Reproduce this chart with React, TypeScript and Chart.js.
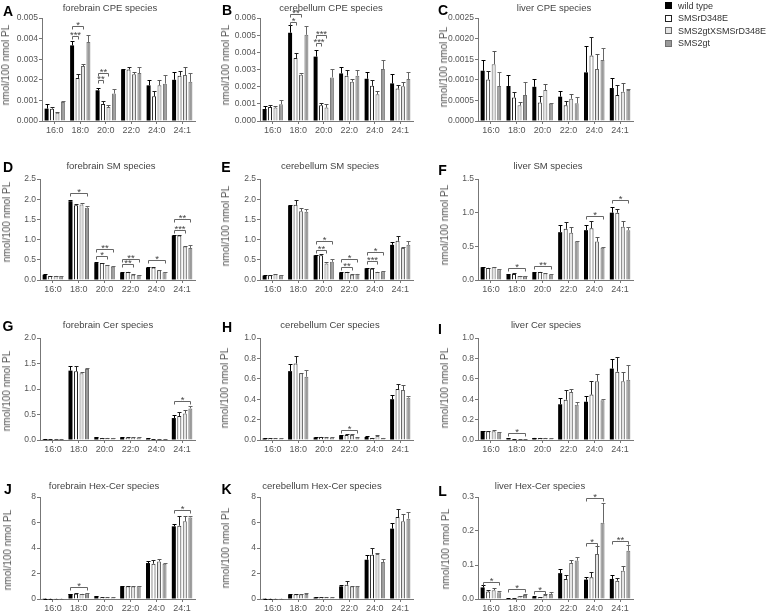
import React, { useEffect, useRef } from "react";
import { Chart, registerables } from "chart.js";

Chart.register(...registerables);

const FONT = '"Liberation Sans", Arial, Helvetica, sans-serif';

const categories = ["16:0", "18:0", "20:0", "22:0", "24:0", "24:1"];
const seriesNames = ["wild type", "SMSrD348E", "SMS2gtXSMSrD348E", "SMS2gt"];
const yAxisTitle = "nmol/100 nmol PL";

// ---- A: forebrain CPE ----
const aMeans = [
  [0.0006, 0.00367, 0.00149, 0.0025, 0.00173, 0.002],
  [0.0006, 0.00209, 0.00083, 0.0025, 0.0012, 0.0022],
  [0.0004, 0.00267, 0.00068, 0.00227, 0.00173, 0.00223],
  [0.00092, 0.00383, 0.00133, 0.00233, 0.00181, 0.0019],
];
const aErrors = [
  [0.00024, 0.00021, 0.00013, 0.00003, 0.00027, 0.00038],
  [0.0001, 0.00018, 0.00014, 0.00012, 0.00026, 0.00023],
  [0.00004, 0.00008, 0.0001, 0.00011, 0.00027, 0.00039],
  [0.00004, 0.00033, 0.00024, 0.00029, 0.00041, 0.00043],
];
const aTicks = ["0.000", "0.001", "0.002", "0.003", "0.004", "0.005"];
const aBrackets = [
  [1, 0, 1, 0.00411, "***"],
  [1, 0, 2, 0.00459, "*"],
  [2, 0, 1, 0.00197, "**"],
  [2, 0, 2, 0.00233, "**"],
];

// ---- B: cerebellum CPE ----
const bMeans = [
  [0.0007, 0.00514, 0.00375, 0.00277, 0.00246, 0.00219],
  [0.00082, 0.00367, 0.00092, 0.00264, 0.00205, 0.00189],
  [0.00078, 0.0027, 0.00078, 0.00229, 0.00156, 0.00203],
  [0.00098, 0.00502, 0.00254, 0.00264, 0.00303, 0.00244],
];
const bErrors = [
  [0.00016, 0.00043, 0.00041, 0.00036, 0.00037, 0.00054],
  [0.0001, 0.00029, 0.00015, 0.00033, 0.00033, 0.0002],
  [0.00008, 0.00007, 0.0002, 0.00013, 0.0002, 0.00026],
  [0.00023, 0.00049, 0.00049, 0.00033, 0.00052, 0.00039],
];
const bTicks = ["0.000", "0.001", "0.002", "0.003", "0.004", "0.005", "0.006"];
const bBrackets = [
  [1, 0, 1, 0.00576, "*"],
  [1, 0, 2, 0.00625, "**"],
  [2, 0, 1, 0.00453, "***"],
  [2, 0, 2, 0.00502, "***"],
];

// ---- C: liver CPE ----
const cMeans = [
  [0.00122, 0.00085, 0.00083, 0.00059, 0.00118, 0.0008],
  [0.00101, 0.00057, 0.00045, 0.00038, 0.00159, 0.00063],
  [0.00138, 0.00038, 0.00075, 0.00054, 0.00126, 0.00071],
  [0.00085, 0.00063, 0.00042, 0.00043, 0.00148, 0.00075],
];
const cErrors = [
  [0.00026, 0.00027, 0.00019, 0.00014, 0.00064, 0.00024],
  [0.00021, 0.00013, 0.00016, 0.00011, 0.00046, 0.00025],
  [0.00032, 0.00008, 0.00016, 0.00011, 0.00037, 0.00021],
  [0.00034, 0.00031, 0.00002, 0.00016, 0.0003, 0.00002],
];
const cTicks = ["0.0000", "0.0005", "0.0010", "0.0015", "0.0020", "0.0025"];
const cBrackets: any[] = [];

// ---- D: forebrain SM ----
const dMeans = [
  [0.13, 1.95, 0.42, 0.18, 0.3, 1.1],
  [0.1, 1.85, 0.42, 0.2, 0.31, 1.1],
  [0.1, 1.87, 0.37, 0.13, 0.24, 0.83],
  [0.09, 1.79, 0.33, 0.12, 0.19, 0.79],
];
const dErrors = [
  [0.01, 0.02, 0.02, 0.02, 0.02, 0.02],
  [0.005, 0.04, 0.01, 0.01, 0.01, 0.02],
  [0.005, 0.04, 0.01, 0.01, 0.01, 0.01],
  [0.01, 0.03, 0.01, 0.01, 0.02, 0.07],
];
const dTicks = ["0.0", "0.5", "1.0", "1.5", "2.0", "2.5"];
const dBrackets = [
  [1, 0, 3, 2.15, "*"],
  [2, 0, 2, 0.6, "*"],
  [2, 0, 3, 0.76, "**"],
  [3, 0, 2, 0.39, "**"],
  [3, 0, 3, 0.53, "**"],
  [4, 0, 3, 0.49, "*"],
  [5, 0, 2, 1.25, "***"],
  [5, 0, 3, 1.52, "**"],
];

// ---- E: cerebellum SM ----
const eMeans = [
  [0.11, 1.84, 0.61, 0.18, 0.29, 0.87],
  [0.12, 1.86, 0.61, 0.2, 0.28, 0.97],
  [0.14, 1.7, 0.41, 0.13, 0.2, 0.79],
  [0.12, 1.69, 0.45, 0.15, 0.21, 0.87],
];
const eErrors = [
  [0.01, 0.02, 0.01, 0.01, 0.01, 0.07],
  [0.005, 0.12, 0.03, 0.01, 0.01, 0.13],
  [0.005, 0.08, 0.04, 0.01, 0.01, 0.02],
  [0.005, 0.07, 0.06, 0.01, 0.01, 0.1],
];
const eTicks = ["0.0", "0.5", "1.0", "1.5", "2.0", "2.5"];
const eBrackets = [
  [2, 0, 2, 0.75, "**"],
  [2, 0, 3, 0.96, "*"],
  [3, 0, 2, 0.31, "**"],
  [3, 0, 3, 0.52, "*"],
  [4, 0, 2, 0.46, "***"],
  [4, 0, 3, 0.69, "*"],
];

// ---- F: liver SM ----
const fMeans = [
  [0.19, 0.08, 0.11, 0.71, 0.74, 1.0],
  [0.18, 0.09, 0.12, 0.76, 0.77, 1.0],
  [0.19, 0.06, 0.1, 0.7, 0.57, 0.79],
  [0.16, 0.055, 0.08, 0.57, 0.48, 0.74],
];
const fErrors = [
  [0.01, 0.005, 0.01, 0.1, 0.08, 0.09],
  [0.005, 0.01, 0.005, 0.1, 0.1, 0.06],
  [0.01, 0.005, 0.005, 0.08, 0.07, 0.08],
  [0.005, 0.005, 0.005, 0.01, 0.01, 0.05],
];
const fTicks = ["0.0", "0.5", "1.0", "1.5"];
const fBrackets = [
  [1, 0, 3, 0.18, "*"],
  [2, 0, 3, 0.21, "**"],
  [4, 0, 3, 0.95, "*"],
  [5, 0, 3, 1.19, "*"],
];

// ---- G: forebrain Cer ----
const gMeans = [
  [0.02, 1.36, 0.05, 0.05, 0.03, 0.43],
  [0.02, 1.35, 0.04, 0.05, 0.02, 0.47],
  [0.02, 1.31, 0.04, 0.05, 0.02, 0.52],
  [0.02, 1.39, 0.04, 0.05, 0.02, 0.62],
];
const gErrors = [
  [0.005, 0.09, 0.005, 0.005, 0.005, 0.06],
  [0.005, 0.1, 0.005, 0.005, 0.005, 0.08],
  [0.005, 0.02, 0.005, 0.005, 0.005, 0.07],
  [0.005, 0.03, 0.005, 0.005, 0.005, 0.04],
];
const gTicks = ["0.0", "0.5", "1.0", "1.5", "2.0"];
const gBrackets = [[5, 0, 3, 0.77, "*"]];

// ---- H: cerebellum Cer ----
const hMeans = [
  [0.015, 0.675, 0.025, 0.045, 0.03, 0.4],
  [0.015, 0.75, 0.03, 0.05, 0.02, 0.5],
  [0.015, 0.655, 0.025, 0.05, 0.04, 0.49],
  [0.015, 0.62, 0.025, 0.025, 0.02, 0.415],
];
const hErrors = [
  [0.003, 0.075, 0.003, 0.005, 0.005, 0.045],
  [0.003, 0.07, 0.003, 0.005, 0.003, 0.05],
  [0.003, 0.005, 0.003, 0.005, 0.005, 0.045],
  [0.003, 0.07, 0.003, 0.003, 0.003, 0.015],
];
const hTicks = ["0.0", "0.2", "0.4", "0.6", "0.8", "1.0"];
const hBrackets = [[3, 0, 3, 0.1, "*"]];

// ---- I: liver Cer ----
const iMeans = [
  [0.088, 0.015, 0.02, 0.35, 0.375, 0.7],
  [0.085, 0.01, 0.02, 0.395, 0.445, 0.67],
  [0.085, 0.008, 0.02, 0.47, 0.575, 0.575],
  [0.075, 0.008, 0.015, 0.345, 0.39, 0.59],
];
const iErrors = [
  [0.005, 0.003, 0.003, 0.06, 0.055, 0.09],
  [0.005, 0.003, 0.003, 0.095, 0.13, 0.14],
  [0.01, 0.003, 0.003, 0.03, 0.075, 0.095],
  [0.005, 0.003, 0.003, 0.025, 0.01, 0.145],
];
const iTicks = ["0.0", "0.2", "0.4", "0.6", "0.8", "1.0"];
const iBrackets = [[1, 0, 3, 0.07, "*"]];

// ---- J: forebrain Hex-Cer ----
const jMeans = [
  [0.02, 0.39, 0.2, 0.99, 2.82, 5.7],
  [0.02, 0.42, 0.1, 1.0, 2.77, 5.75],
  [0.02, 0.4, 0.1, 0.98, 2.95, 6.09],
  [0.02, 0.44, 0.12, 1.0, 2.77, 6.4],
];
const jErrors = [
  [0.01, 0.03, 0.03, 0.04, 0.13, 0.18],
  [0.01, 0.03, 0.02, 0.04, 0.26, 0.79],
  [0.01, 0.03, 0.02, 0.04, 0.15, 0.39],
  [0.01, 0.05, 0.02, 0.04, 0.08, 0.1],
];
const jTicks = ["0", "2", "4", "6", "8"];
const jBrackets = [
  [1, 0, 3, 0.92, "*"],
  [5, 0, 3, 7.0, "*"],
];

// ---- K: cerebellum Hex-Cer ----
const kMeans = [
  [0.02, 0.35, 0.12, 0.99, 3.08, 5.52],
  [0.02, 0.38, 0.12, 1.12, 3.48, 6.43],
  [0.02, 0.35, 0.12, 0.99, 3.53, 6.09],
  [0.02, 0.4, 0.12, 0.99, 2.9, 6.3],
];
const kErrors = [
  [0.01, 0.03, 0.02, 0.08, 0.4, 0.44],
  [0.01, 0.03, 0.02, 0.26, 0.52, 0.63],
  [0.01, 0.03, 0.02, 0.04, 0.07, 0.58],
  [0.01, 0.05, 0.02, 0.04, 0.2, 0.5],
];
const kTicks = ["0", "2", "4", "6", "8"];
const kBrackets: any[] = [];

// ---- L: liver Hex-Cer ----
const lMeans = [
  [0.034, 0.002, 0.006, 0.076, 0.057, 0.059],
  [0.022, 0.003, 0.005, 0.059, 0.064, 0.054],
  [0.026, 0.008, 0.012, 0.106, 0.132, 0.083],
  [0.02, 0.012, 0.015, 0.113, 0.224, 0.142],
];
const lErrors = [
  [0.006, 0.001, 0.002, 0.013, 0.007, 0.013],
  [0.005, 0.001, 0.001, 0.013, 0.015, 0.008],
  [0.006, 0.002, 0.003, 0.01, 0.023, 0.015],
  [0.005, 0.003, 0.005, 0.012, 0.058, 0.018],
];
const lTicks = ["0.0", "0.1", "0.2", "0.3"];
const lBrackets = [
  [0, 0, 3, 0.049, "*"],
  [1, 0, 3, 0.029, "*"],
  [2, 0, 2, 0.024, "*"],
  [4, 0, 2, 0.165, "*"],
  [4, 0, 3, 0.297, "*"],
  [5, 0, 3, 0.172, "**"],
];

// ---- styles ----
const fillColors = ["#000000", "#ffffff", "#e4e4e4", "#9a9a9a"];
const borderColors = ["#000000", "#222222", "#666666", "#707070"];
const errColors = ["#000000", "#222222", "#555555", "#666666"];

const panels = [
  { letter: "A", title: "forebrain CPE species", means: aMeans, errors: aErrors, ticks: aTicks, brackets: aBrackets },
  { letter: "B", title: "cerebellum CPE species", means: bMeans, errors: bErrors, ticks: bTicks, brackets: bBrackets },
  { letter: "C", title: "liver CPE species", means: cMeans, errors: cErrors, ticks: cTicks, brackets: cBrackets },
  { letter: "D", title: "forebrain SM species", means: dMeans, errors: dErrors, ticks: dTicks, brackets: dBrackets },
  { letter: "E", title: "cerebellum SM species", means: eMeans, errors: eErrors, ticks: eTicks, brackets: eBrackets },
  { letter: "F", title: "liver SM species", means: fMeans, errors: fErrors, ticks: fTicks, brackets: fBrackets },
  { letter: "G", title: "forebrain Cer species", means: gMeans, errors: gErrors, ticks: gTicks, brackets: gBrackets },
  { letter: "H", title: "cerebellum Cer species", means: hMeans, errors: hErrors, ticks: hTicks, brackets: hBrackets },
  { letter: "I", title: "liver Cer species", means: iMeans, errors: iErrors, ticks: iTicks, brackets: iBrackets },
  { letter: "J", title: "forebrain Hex-Cer species", means: jMeans, errors: jErrors, ticks: jTicks, brackets: jBrackets },
  { letter: "K", title: "cerebellum Hex-Cer species", means: kMeans, errors: kErrors, ticks: kTicks, brackets: kBrackets },
  { letter: "L", title: "liver Hex-Cer species", means: lMeans, errors: lErrors, ticks: lTicks, brackets: lBrackets },
];

// layout: plot rect [left, top, right, bottom], title centre, letter centre, y-title centre
const layouts = [
  { plot: [42, 18, 195, 121], title: [110, 7.5], letter: [8, 10.5], ytitle: [6, 64.5] },
  { plot: [260, 18, 413, 121], title: [331, 7.5], letter: [227, 9.5], ytitle: [226, 65] },
  { plot: [478, 18, 633, 121], title: [554, 7.5], letter: [443, 9.5], ytitle: [444, 67] },
  { plot: [40, 179, 195, 280], title: [111, 166], letter: [8, 167], ytitle: [6.5, 222] },
  { plot: [260, 179, 413, 280], title: [330, 166], letter: [226, 167], ytitle: [225.5, 226] },
  { plot: [478, 179, 633, 280], title: [548, 166], letter: [442.5, 169.5], ytitle: [445, 225] },
  { plot: [40, 338, 195, 440], title: [108, 325], letter: [8, 326], ytitle: [6.5, 391] },
  { plot: [260, 338, 413, 440], title: [330, 325], letter: [227, 327], ytitle: [225, 388] },
  { plot: [478, 338, 633, 440], title: [546, 325], letter: [440, 328.5], ytitle: [445, 388] },
  { plot: [40, 497, 195, 599], title: [104, 486], letter: [8, 488.5], ytitle: [8, 550] },
  { plot: [260, 497, 413, 599], title: [322, 486], letter: [226.5, 488.5], ytitle: [226, 548] },
  { plot: [478, 497, 633, 599], title: [540, 486], letter: [442.5, 490.5], ytitle: [446, 549] },
];

const Y_W = 40;
const PAD_T = 20;
const PAD_R = 4;
const X_H = 20;

function makeOverlay(errors: number[][], brackets: any[]) {
  return {
    id: "errorsAndBrackets",
    afterDatasetsDraw(chart: any) {
      const ctx = chart.ctx;
      const yScale = chart.scales.y;
      ctx.save();
      ctx.lineWidth = 1;
      chart.data.datasets.forEach((ds: any, i: number) => {
        const meta = chart.getDatasetMeta(i);
        meta.data.forEach((el: any, j: number) => {
          const v = ds.data[j];
          const e = errors[i][j];
          const x = Math.round(el.x) + 0.5;
          const y0 = el.y;
          const y1 = Math.round(yScale.getPixelForValue(v + e)) + 0.5;
          ctx.strokeStyle = errColors[i];
          ctx.beginPath();
          ctx.moveTo(x, y0);
          ctx.lineTo(x, y1);
          ctx.moveTo(x - 2, y1);
          ctx.lineTo(x + 2, y1);
          ctx.stroke();
        });
      });
      ctx.strokeStyle = "#666666";
      ctx.fillStyle = "#444444";
      ctx.font = "9.5px " + FONT;
      ctx.textAlign = "center";
      ctx.textBaseline = "alphabetic";
      brackets.forEach((b: any) => {
        const [cat, from, to, val, label] = b;
        const xa = Math.round(chart.getDatasetMeta(from).data[cat].x) + 0.5;
        const xb = Math.round(chart.getDatasetMeta(to).data[cat].x) + 0.5;
        const y = Math.round(yScale.getPixelForValue(val)) + 0.5;
        ctx.beginPath();
        ctx.moveTo(xa, y + 3);
        ctx.lineTo(xa, y);
        ctx.lineTo(xb, y);
        ctx.lineTo(xb, y + 3);
        ctx.stroke();
        ctx.fillText(label, (xa + xb) / 2, y + 1.5);
      });
      ctx.restore();
    },
  };
}

function PanelChart({ panel, layout }: any) {
  const ref = useRef<HTMLCanvasElement | null>(null);
  const [pl, pt, pr, pb] = layout.plot;
  const width = Y_W + (pr - pl) + PAD_R;
  const height = PAD_T + (pb - pt) + X_H;
  useEffect(() => {
    if (!ref.current) return;
    const ticks: string[] = panel.ticks;
    const chart = new Chart(ref.current, {
      type: "bar",
      data: {
        labels: categories,
        datasets: seriesNames.map((name, i) => ({
          label: name,
          data: panel.means[i],
          backgroundColor: fillColors[i],
          borderColor: borderColors[i],
          borderWidth: i === 0 ? 0 : 1,
          categoryPercentage: 0.853,
          barPercentage: 0.73,
        })),
      },
      options: {
        responsive: false,
        animation: false,
        devicePixelRatio: 1,
        layout: { padding: { top: PAD_T, right: PAD_R, left: 0, bottom: 0 } },
        plugins: { legend: { display: false }, tooltip: { enabled: false }, title: { display: false } },
        scales: {
          x: {
            type: "category",
            offset: true,
            grid: { display: true, drawOnChartArea: false, drawTicks: true, tickLength: 3, color: "#777777", offset: false },
            border: { display: true, color: "#777777", width: 1 },
            ticks: { color: "#555555", font: { size: 9, family: FONT }, padding: 1, maxRotation: 0, autoSkip: false },
            afterFit: (s: any) => { s.height = X_H; },
          },
          y: {
            min: 0,
            max: parseFloat(ticks[ticks.length - 1]),
            afterBuildTicks: (s: any) => { s.ticks = ticks.map((t) => ({ value: parseFloat(t) })); },
            grid: { display: true, drawOnChartArea: false, drawTicks: true, tickLength: 3, color: "#777777" },
            border: { display: true, color: "#777777", width: 1 },
            ticks: {
              color: "#555555",
              font: { size: 8.5, family: FONT },
              padding: 1,
              autoSkip: false,
              callback: (_v: any, idx: number) => ticks[idx],
            },
            afterFit: (s: any) => { s.width = Y_W; },
          },
        },
      },
      plugins: [makeOverlay(panel.errors, panel.brackets)],
    } as any);
    return () => chart.destroy();
  }, []);
  return (
    <canvas
      ref={ref}
      width={width}
      height={height}
      style={{ position: "absolute", left: pl - Y_W, top: pt - PAD_T, width, height }}
    />
  );
}

const centred = (x: number, y: number, extra: any = {}) => ({
  position: "absolute" as const,
  left: x,
  top: y,
  transform: "translate(-50%, -50%)",
  whiteSpace: "nowrap" as const,
  lineHeight: 1,
  fontFamily: FONT,
  ...extra,
});

export default function App() {
  return (
    <div style={{ position: "absolute", left: 0, top: 0, width: 768, height: 614, overflow: "hidden", background: "#ffffff" }}>
      {panels.map((p, k) => {
        const lay = layouts[k];
        return (
          <React.Fragment key={p.letter}>
            <PanelChart panel={p} layout={lay} />
            <div style={centred(lay.title[0], lay.title[1], { fontSize: 9.5, color: "#444444" })}>{p.title}</div>
            <div style={centred(lay.letter[0], lay.letter[1], { fontSize: 14, fontWeight: "bold", color: "#000000" })}>{p.letter}</div>
            <div style={centred(lay.ytitle[0], lay.ytitle[1], { fontSize: 10, color: "#555555", transform: "translate(-50%, -50%) rotate(-90deg)" })}>{yAxisTitle}</div>
          </React.Fragment>
        );
      })}
      {seriesNames.map((name, i) => {
        const yc = [5.5, 18, 30.5, 43][i];
        return (
          <React.Fragment key={name}>
            <div
              style={{
                position: "absolute",
                left: 665,
                top: yc - 3.5,
                width: i === 0 ? 7 : 5,
                height: i === 0 ? 7 : 5,
                background: fillColors[i],
                border: i === 0 ? "none" : "1px solid " + borderColors[i],
              }}
            />
            <div style={{ position: "absolute", left: 678, top: yc, transform: "translateY(-50%)", fontFamily: FONT, fontSize: 9, lineHeight: 1, color: "#333333", whiteSpace: "nowrap" }}>
              {name}
            </div>
          </React.Fragment>
        );
      })}
    </div>
  );
}
